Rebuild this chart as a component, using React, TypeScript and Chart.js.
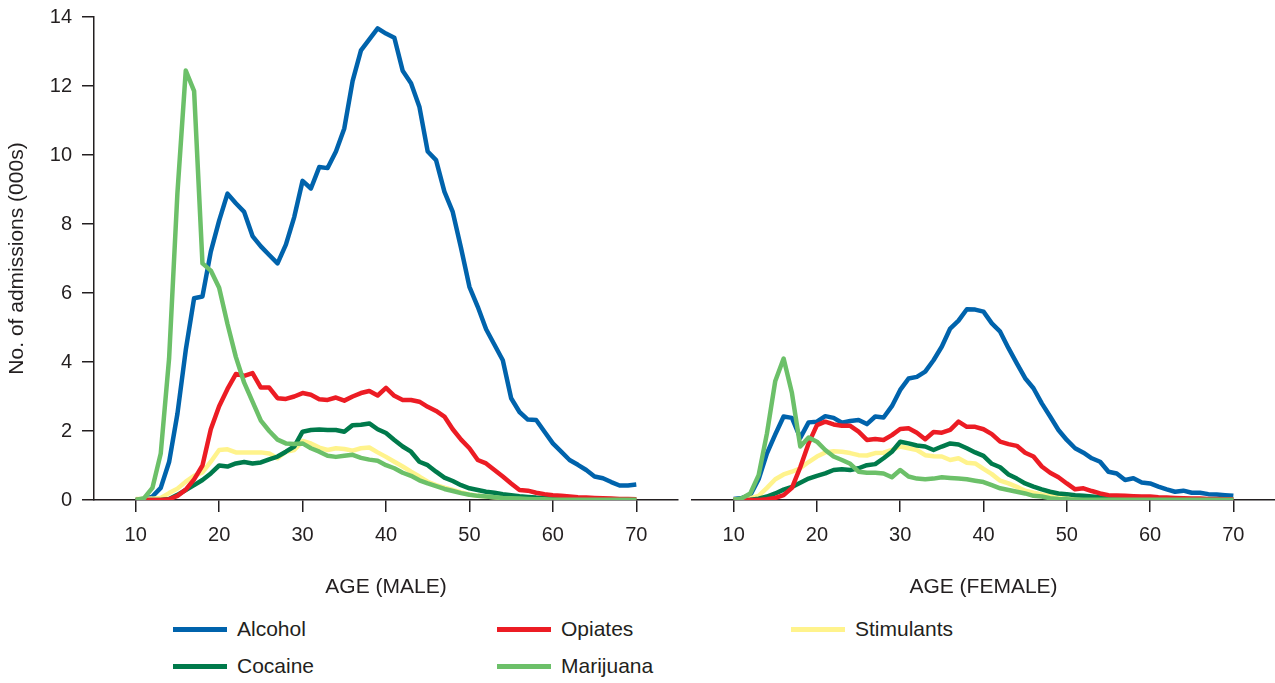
import React, { useEffect, useRef } from "react";
import { Chart, registerables } from "chart.js";

Chart.register(...registerables);

// ---------- DATA ----------
const ages = [
  10, 11, 12, 13, 14, 15, 16, 17, 18, 19, 20, 21, 22, 23, 24, 25, 26, 27, 28, 29,
  30, 31, 32, 33, 34, 35, 36, 37, 38, 39, 40, 41, 42, 43, 44, 45, 46, 47, 48, 49,
  50, 51, 52, 53, 54, 55, 56, 57, 58, 59, 60, 61, 62, 63, 64, 65, 66, 67, 68, 69, 70,
];

const xTickValues = [10, 20, 30, 40, 50, 60, 70];
const yTickValues = [0, 2, 4, 6, 8, 10, 12, 14];

const seriesNames = ["Alcohol", "Opiates", "Stimulants", "Cocaine", "Marijuana"];

// Male (thousands of admissions)
const maleAlcohol = [
  0, 0.02, 0.1, 0.35, 1.1, 2.5, 4.35, 5.85, 5.9, 7.2, 8.1, 8.88, 8.6, 8.35, 7.65, 7.35, 7.1, 6.86, 7.4, 8.2,
  9.25, 9.03, 9.65, 9.62, 10.1, 10.77, 12.15, 13.03, 13.35, 13.67, 13.52, 13.4, 12.44, 12.08, 11.4, 10.1, 9.85, 8.94, 8.35, 7.3,
  6.18, 5.6, 4.95, 4.5, 4.05, 2.95, 2.55, 2.33, 2.32, 1.98, 1.64, 1.4, 1.16, 1.02, 0.87, 0.68, 0.63, 0.52, 0.42, 0.42, 0.45,
];
const maleOpiates = [
  0, 0, 0, 0, 0.02, 0.12, 0.3, 0.6, 1.0, 2.05, 2.72, 3.22, 3.65, 3.6, 3.68, 3.26, 3.26, 2.95, 2.93, 3.0,
  3.1, 3.05, 2.92, 2.9, 2.97, 2.88, 3.0, 3.1, 3.16, 3.03, 3.25, 3.02, 2.9, 2.9, 2.85, 2.7, 2.58, 2.42, 2.05, 1.75,
  1.5, 1.16, 1.06, 0.87, 0.68, 0.48, 0.29, 0.27, 0.21, 0.17, 0.14, 0.12, 0.1, 0.08, 0.07, 0.06, 0.05, 0.04, 0.03, 0.03, 0.02,
];
const maleStimulants = [
  0.03, 0.03, 0.04, 0.06, 0.2, 0.33, 0.53, 0.7, 0.8, 1.11, 1.45, 1.47, 1.38, 1.38, 1.38, 1.38, 1.35, 1.21, 1.4, 1.45,
  1.71, 1.64, 1.52, 1.45, 1.5, 1.48, 1.43, 1.5, 1.52, 1.38, 1.25, 1.11, 0.97, 0.82, 0.68, 0.53, 0.43, 0.36, 0.29, 0.22,
  0.16, 0.12, 0.1, 0.08, 0.06, 0.05, 0.04, 0.03, 0.03, 0.02, 0.02, 0.01, 0.01, 0.01, 0.01, 0.01, 0.01, 0.01, 0.01, 0.01, 0.01,
];
const maleCocaine = [
  0, 0, 0, 0, 0.03, 0.15, 0.29, 0.43, 0.58, 0.77, 1.0, 0.97, 1.06, 1.1, 1.06, 1.09, 1.18, 1.26, 1.4, 1.55,
  1.98, 2.03, 2.04, 2.03, 2.03, 1.98, 2.17, 2.18, 2.22, 2.05, 1.94, 1.74, 1.55, 1.4, 1.11, 1.01, 0.82, 0.65, 0.55, 0.43,
  0.34, 0.29, 0.24, 0.21, 0.17, 0.14, 0.11, 0.09, 0.07, 0.06, 0.05, 0.04, 0.03, 0.03, 0.02, 0.02, 0.01, 0.01, 0.01, 0.01, 0.01,
];
const maleMarijuana = [
  0, 0.05, 0.35, 1.35, 4.1, 8.9, 12.45, 11.85, 6.86, 6.65, 6.15, 5.1, 4.15, 3.4, 2.85, 2.3, 2.0, 1.75, 1.64, 1.62,
  1.64, 1.5, 1.4, 1.28, 1.25, 1.28, 1.31, 1.22, 1.17, 1.14, 1.01, 0.92, 0.79, 0.7, 0.57, 0.48, 0.4, 0.32, 0.26, 0.2,
  0.15, 0.12, 0.1, 0.08, 0.06, 0.05, 0.04, 0.03, 0.02, 0.02, 0.01, 0.01, 0.01, 0.01, 0.01, 0.01, 0.01, 0.01, 0.01, 0.01, 0.01,
];

// Female (thousands of admissions)
const femaleAlcohol = [
  0.03, 0.06, 0.14, 0.6, 1.35, 1.9, 2.42, 2.38, 1.8, 2.25, 2.27, 2.43, 2.38, 2.24, 2.29, 2.32, 2.2, 2.42, 2.39, 2.72,
  3.19, 3.52, 3.57, 3.72, 4.05, 4.45, 4.97, 5.2, 5.53, 5.52, 5.46, 5.12, 4.88, 4.4, 3.96, 3.53, 3.24, 2.8, 2.42, 2.03,
  1.74, 1.5, 1.37, 1.21, 1.11, 0.82, 0.77, 0.58, 0.63, 0.51, 0.48, 0.39, 0.31, 0.24, 0.27, 0.21, 0.21, 0.17, 0.16, 0.14, 0.12,
];
const femaleOpiates = [
  0, 0, 0, 0, 0.02, 0.06, 0.14, 0.35, 0.95, 1.64, 2.17, 2.27, 2.19, 2.15, 2.15, 1.98, 1.74, 1.77, 1.74, 1.88,
  2.06, 2.08, 1.95, 1.76, 1.97, 1.95, 2.03, 2.27, 2.12, 2.12, 2.05, 1.91, 1.69, 1.62, 1.57, 1.37, 1.26, 0.97, 0.79, 0.66,
  0.48, 0.31, 0.34, 0.26, 0.19, 0.14, 0.13, 0.12, 0.11, 0.1, 0.1, 0.08, 0.07, 0.06, 0.05, 0.04, 0.04, 0.03, 0.03, 0.02, 0.02,
];
const femaleStimulants = [
  0.02, 0.03, 0.05, 0.12, 0.35, 0.6, 0.74, 0.82, 0.92, 1.1, 1.26, 1.38, 1.41, 1.4, 1.36, 1.3, 1.29, 1.36, 1.37, 1.45,
  1.55, 1.5, 1.45, 1.3, 1.27, 1.26, 1.16, 1.21, 1.08, 1.06, 0.9, 0.75, 0.56, 0.48, 0.38, 0.27, 0.21, 0.16, 0.12, 0.1,
  0.08, 0.06, 0.05, 0.04, 0.03, 0.03, 0.02, 0.02, 0.01, 0.01, 0.01, 0.01, 0.01, 0.01, 0.01, 0.01, 0.01, 0.01, 0.01, 0.01, 0.01,
];
const femaleCocaine = [
  0, 0, 0.01, 0.04, 0.1, 0.19, 0.3, 0.38, 0.5, 0.62, 0.7, 0.77, 0.87, 0.89, 0.87, 0.92, 1.01, 1.04, 1.21, 1.4,
  1.69, 1.64, 1.58, 1.55, 1.45, 1.55, 1.64, 1.61, 1.5, 1.38, 1.28, 1.05, 0.95, 0.74, 0.62, 0.48, 0.39, 0.31, 0.24, 0.19,
  0.17, 0.14, 0.12, 0.1, 0.08, 0.07, 0.06, 0.05, 0.04, 0.03, 0.03, 0.02, 0.02, 0.01, 0.01, 0.01, 0.01, 0.01, 0.01, 0.01, 0.01,
];
const femaleMarijuana = [
  0, 0.05, 0.19, 0.72, 1.93, 3.45, 4.1, 3.1, 1.55, 1.81, 1.69, 1.45, 1.26, 1.16, 1.05, 0.82, 0.79, 0.79, 0.77, 0.66,
  0.87, 0.68, 0.62, 0.6, 0.62, 0.66, 0.64, 0.62, 0.6, 0.56, 0.52, 0.43, 0.34, 0.29, 0.24, 0.19, 0.12, 0.1, 0.05, 0.03,
  0.02, 0.01, 0.01, 0.01, 0.01, 0.01, 0.01, 0.01, 0.01, 0.01, 0.01, 0.01, 0.01, 0.01, 0.01, 0.01, 0.01, 0.01, 0.01, 0.01, 0.01,
];

const seriesColors = ["#0063AC", "#EC1C24", "#FFF38C", "#007A4B", "#6CC069"];

const maleSeries = [maleAlcohol, maleOpiates, maleStimulants, maleCocaine, maleMarijuana];
const femaleSeries = [femaleAlcohol, femaleOpiates, femaleStimulants, femaleCocaine, femaleMarijuana];

// ---------- STYLE ----------
const FONT = "'Liberation Sans', Arial, Helvetica, sans-serif";
const TEXT = "#231F20";

function buildConfig(
  series: number[][],
  xTitle: string,
  showY: boolean,
  padLeft: number,
  padRight: number
): any {
  // draw order: marijuana on top, then opiates, cocaine, stimulants, alcohol
  const drawOrder = [4, 1, 3, 2, 0];
  const datasets = series.map((vals, i) => ({
    label: seriesNames[i],
    data: ages.map((a, j) => ({ x: a, y: vals[j] })),
    borderColor: seriesColors[i],
    backgroundColor: seriesColors[i],
    borderWidth: 4.5,
    pointRadius: 0,
    tension: 0,
    fill: false,
    borderJoinStyle: "round",
    order: drawOrder[i],
  }));
  return {
    type: "line",
    data: { datasets },
    options: {
      responsive: false,
      maintainAspectRatio: false,
      animation: false,
      events: [],
      layout: { padding: { top: 17, left: padLeft, right: padRight, bottom: 0 } },
      plugins: { legend: { display: false }, tooltip: { enabled: false }, title: { display: false } },
      scales: {
        x: {
          type: "linear",
          min: 5,
          max: 75,
          afterBuildTicks: (s: any) => {
            s.ticks = xTickValues.map((v) => ({ value: v }));
          },
          afterFit: (s: any) => {
            s.height = 100;
          },
          ticks: {
            autoSkip: false,
            maxRotation: 0,
            padding: 11,
            color: TEXT,
            font: { family: FONT, size: 20 },
            callback: (v: any) => String(v),
          },
          grid: {
            display: true,
            drawOnChartArea: false,
            drawTicks: true,
            tickLength: 12,
            color: TEXT,
            lineWidth: 1.5,
          },
          border: { display: true, color: TEXT, width: 1.5 },
          title: {
            display: true,
            text: xTitle,
            color: TEXT,
            font: { family: FONT, size: 21 },
            padding: { top: 0, bottom: 0 },
          },
        },
        y: {
          type: "linear",
          display: showY,
          min: 0,
          max: 14,
          afterBuildTicks: (s: any) => {
            s.ticks = yTickValues.map((v) => ({ value: v }));
          },
          afterFit: (s: any) => {
            if (showY) {
              s.width = 94;
              s.paddingTop = 0;
              s.paddingBottom = 0;
            }
          },
          ticks: {
            padding: 10,
            color: TEXT,
            font: { family: FONT, size: 20 },
            callback: (v: any) => String(v),
          },
          grid: {
            display: true,
            drawOnChartArea: false,
            drawTicks: true,
            tickLength: 12,
            color: TEXT,
            lineWidth: 1.5,
          },
          border: { display: true, color: TEXT, width: 1.5 },
          title: {
            display: true,
            text: "No. of admissions (000s)",
            color: TEXT,
            font: { family: FONT, size: 21 },
            padding: { top: 5, bottom: 0 },
          },
        },
      },
    },
  };
}

const legendLayout = [
  { idx: 0, left: 173, top: 629 },
  { idx: 1, left: 497, top: 629 },
  { idx: 2, left: 791, top: 629 },
  { idx: 3, left: 173, top: 666 },
  { idx: 4, left: 497, top: 666 },
];

export default function App() {
  const leftRef = useRef<HTMLCanvasElement | null>(null);
  const rightRef = useRef<HTMLCanvasElement | null>(null);

  useEffect(() => {
    const c1 = new Chart(
      leftRef.current as HTMLCanvasElement,
      buildConfig(maleSeries, "AGE (MALE)", true, 0, 2)
    );
    const c2 = new Chart(
      rightRef.current as HTMLCanvasElement,
      buildConfig(femaleSeries, "AGE (FEMALE)", false, 12, 0)
    );
    return () => {
      c1.destroy();
      c2.destroy();
    };
  }, []);

  return (
    <div
      style={{
        position: "absolute",
        left: 0,
        top: 0,
        width: 1275,
        height: 683,
        background: "#ffffff",
        overflow: "hidden",
        fontFamily: FONT,
      }}
    >
      <canvas
        ref={leftRef}
        width={680}
        height={600}
        style={{ position: "absolute", left: 0, top: 0, width: 680, height: 600 }}
      />
      <canvas
        ref={rightRef}
        width={595}
        height={600}
        style={{ position: "absolute", left: 680, top: 0, width: 595, height: 600 }}
      />
      {legendLayout.map((it) => (
        <div key={seriesNames[it.idx]}>
          <div
            style={{
              position: "absolute",
              left: it.left,
              top: it.top - 2.5,
              width: 54,
              height: 5,
              background: seriesColors[it.idx],
            }}
          />
          <div
            style={{
              position: "absolute",
              left: it.left + 64,
              top: it.top - 13,
              height: 26,
              lineHeight: "26px",
              fontSize: 21,
              color: TEXT,
              whiteSpace: "nowrap",
            }}
          >
            {seriesNames[it.idx]}
          </div>
        </div>
      ))}
    </div>
  );
}
